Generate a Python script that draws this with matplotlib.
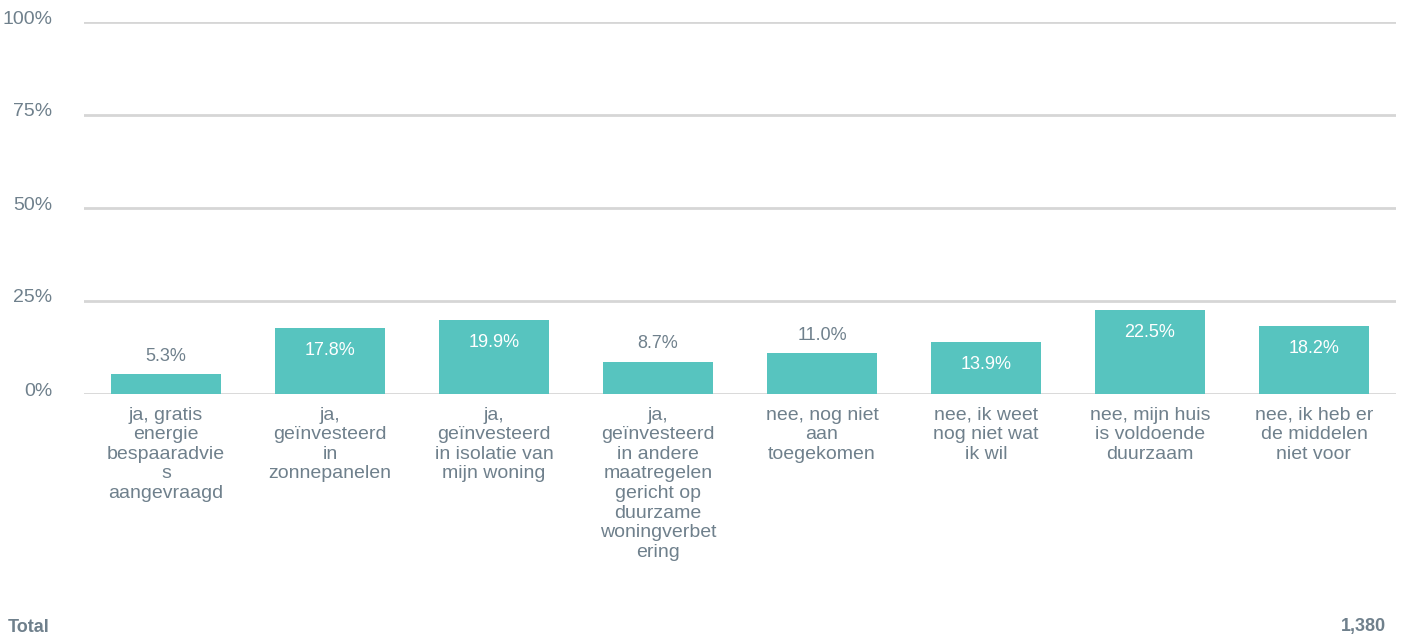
import numpy as np
import matplotlib.pyplot as plt
from matplotlib.transforms import offset_copy

plt.rcParams['font.family'] = ['Liberation Sans', 'DejaVu Sans']

# data
categories = [
    "ja, gratis\nenergie\nbespaaradvie\ns\naangevraagd",
    "ja,\ngeïnvesteerd\nin\nzonnepanelen",
    "ja,\ngeïnvesteerd\nin isolatie van\nmijn woning",
    "ja,\ngeïnvesteerd\nin andere\nmaatregelen\ngericht op\nduurzame\nwoningverbet\nering",
    "nee, nog niet\naan\ntoegekomen",
    "nee, ik weet\nnog niet wat\nik wil",
    "nee, mijn huis\nis voldoende\nduurzaam",
    "nee, ik heb er\nde middelen\nniet voor",
]
values = [5.3, 17.8, 19.9, 8.7, 11.0, 13.9, 22.5, 18.2]
yticks = [0, 25, 50, 75, 100]
total = 1380

bar_color = '#57c4bf'
text_color = '#6f808c'
grid_color = '#d6d6d6'

fig = plt.figure(figsize=(14.04, 6.39), dpi=100)
ax = fig.add_axes([84 / 1404, 245 / 639, 1312 / 1404, 372 / 639])

x = np.arange(len(values))
ax.bar(x, values, width=0.665, color=bar_color, zorder=3)

ax.set_xlim(-0.5, len(values) - 0.5)
ax.set_ylim(0, 100)
ax.set_yticks(yticks)
ax.set_yticklabels([f"{t}%" for t in yticks], fontsize=14, color=text_color)
ax.tick_params(axis='y', length=0, pad=23)
for lbl in ax.get_yticklabels():
    lbl.set_verticalalignment('center')
    lbl.set_transform(offset_copy(lbl.get_transform(), fig=fig, x=0, y=3, units='dots'))
ax.set_xticks(x)
ax.set_xticklabels(categories, fontsize=14, color=text_color, linespacing=1.2, va='top')
ax.tick_params(axis='x', length=0, pad=9)

for t in yticks:
    ax.axhline(t, color=grid_color, lw=2, zorder=1)
for s in ax.spines.values():
    s.set_visible(False)

# value labels: inside for tall bars, above for short ones
for xi, v in zip(x, values):
    if v >= 12:
        ax.annotate(f"{v:.1f}%", (xi, v), xytext=(0, -16), textcoords='offset points',
                    ha='center', va='center', fontsize=13, color='white', zorder=4)
    else:
        ax.annotate(f"{v:.1f}%", (xi, v), xytext=(0, 13), textcoords='offset points',
                    ha='center', va='center', fontsize=13, color=text_color, zorder=4)

fig.text(8 / 1404, 1 - 627 / 639, "Total", fontsize=13, fontweight='bold',
         color=text_color, ha='left', va='center')
fig.text(1386 / 1404, 1 - 627 / 639, f"{total:,}", fontsize=13, fontweight='bold',
         color=text_color, ha='right', va='center')

fig.savefig('out.png', dpi=100, facecolor='white')
